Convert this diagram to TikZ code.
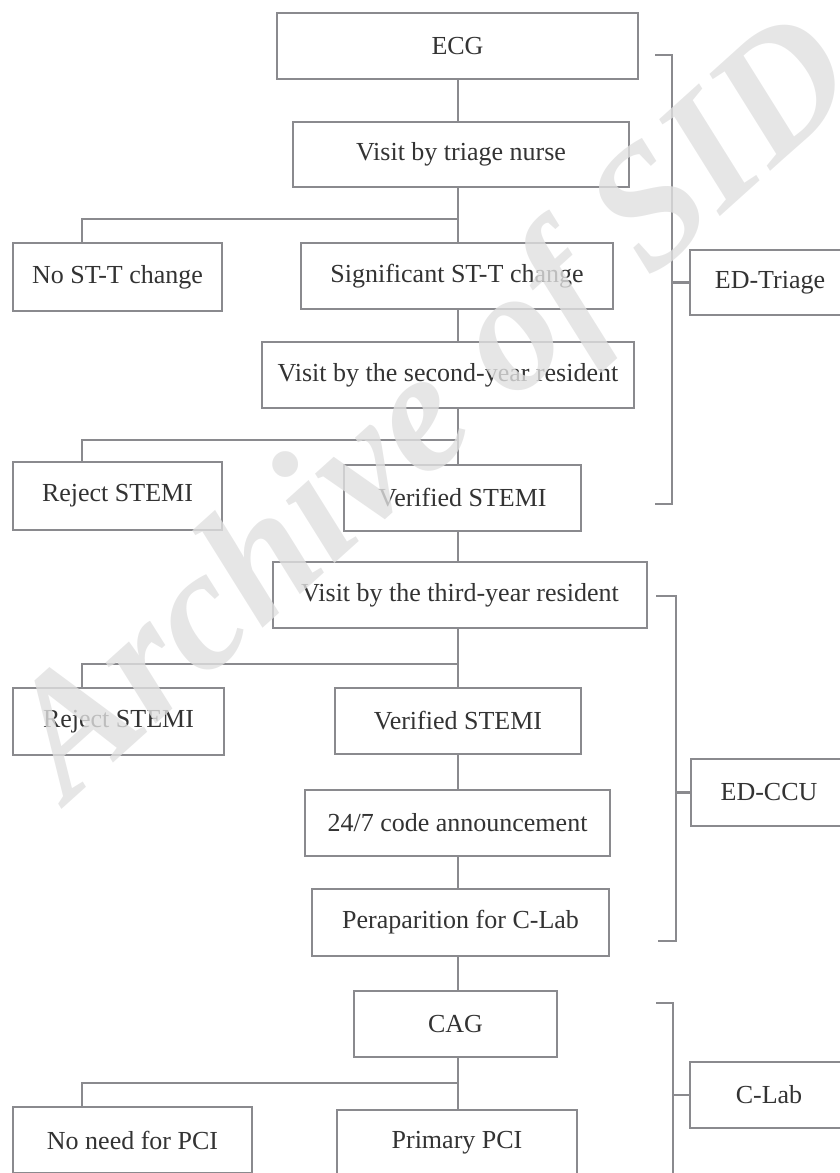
\documentclass[tikz,border=0pt]{standalone}
\usepackage{fontspec}
\setmainfont{Liberation Serif}
\definecolor{linegray}{HTML}{8A8A8E}
\definecolor{txtgray}{HTML}{333333}
\begin{document}
\begin{tikzpicture}[x=1pt,y=-1pt,
  bx/.style={draw=linegray, line width=2.6pt, fill=white, inner sep=0pt, text=txtgray,
    font=\fontsize{26}{30}\selectfont, align=center},
  conn/.style={draw=linegray, line width=2.6pt, line join=miter},
  wm/.style={text=gray!24, text opacity=0.8, font=\fontsize{172}{172}\selectfont\bfseries\itshape}]
\useasboundingbox (0,0) rectangle (839,1173);
\coordinate (sp) at (458,0);
% main column
\node[bx, minimum width=361pt, minimum height=66pt] (ecg) at (457.5,46) {ECG};
\node[bx, minimum width=336pt, minimum height=65pt] (nurse) at (461,154.5) {Visit by triage nurse};
\node[bx, minimum width=209pt, minimum height=68pt] (nost) at (117.5,277) {No ST-T change};
\node[bx, minimum width=312pt, minimum height=66pt] (sig) at (457,276) {Significant ST-T change};
\node[bx, minimum width=372pt, minimum height=66pt] (second) at (448,375) {Visit by the second-year resident};
\node[bx, minimum width=209pt, minimum height=68pt] (rej1) at (117.5,496) {Reject STEMI};
\node[bx, minimum width=237pt, minimum height=66pt] (ver1) at (462.5,498) {Verified STEMI};
\node[bx, minimum width=374pt, minimum height=66pt] (third) at (460,595) {Visit by the third-year resident};
\node[bx, minimum width=211pt, minimum height=67pt] (rej2) at (118.5,721.5) {Reject STEMI};
\node[bx, minimum width=246pt, minimum height=66pt] (ver2) at (458,721) {Verified STEMI};
\node[bx, minimum width=305pt, minimum height=66pt] (code) at (457.5,823) {24/7 code announcement};
\node[bx, minimum width=297pt, minimum height=67pt] (prep) at (460.5,922.5) {Peraparition for C-Lab};
\node[bx, minimum width=203pt, minimum height=66pt] (cag) at (455.5,1024) {CAG};
\node[bx, minimum width=239pt, minimum height=66pt] (noneed) at (132.5,1140) {No need for PCI};
\node[bx, minimum width=240pt, minimum height=66pt] (primary) at (457,1143) {Primary PCI};
% phase labels
\node[bx, minimum width=160pt, minimum height=65pt] (triage) at (770,282.5) {ED-Triage};
\node[bx, minimum width=156pt, minimum height=67pt] (ccu) at (769,792.5) {ED-CCU};
\node[bx, minimum width=158pt, minimum height=66pt] (clab) at (769,1095) {C-Lab};
% branch points
\coordinate (b1) at (82,219);
\coordinate (b2) at (82,440);
\coordinate (b3) at (82,664);
\coordinate (b4) at (82,1083);
% connectors
\draw[conn] (ecg.south -| sp) -- (nurse.north -| sp);
\draw[conn] (nurse.south -| sp) -- (sig.north -| sp);
\draw[conn] (b1 -| sp) -- (b1) -- (nost.north -| b1);
\draw[conn] (sig.south -| sp) -- (second.north -| sp);
\draw[conn] (second.south -| sp) -- (ver1.north -| sp);
\draw[conn] (b2 -| sp) -- (b2) -- (rej1.north -| b2);
\draw[conn] (ver1.south -| sp) -- (third.north -| sp);
\draw[conn] (third.south -| sp) -- (ver2.north -| sp);
\draw[conn] (b3 -| sp) -- (b3) -- (rej2.north -| b3);
\draw[conn] (ver2.south -| sp) -- (code.north -| sp);
\draw[conn] (code.south -| sp) -- (prep.north -| sp);
\draw[conn] (prep.south -| sp) -- (cag.north -| sp);
\draw[conn] (cag.south -| sp) -- (primary.north -| sp);
\draw[conn] (b4 -| sp) -- (b4) -- (noneed.north -| b4);
% brackets
\coordinate (t1a) at (655,55);
\coordinate (t1b) at (672,55);
\coordinate (t1c) at (672,504);
\coordinate (t1d) at (655,504);
\draw[conn] (t1a) -- (t1b) -- (t1c) -- (t1d);
\draw[conn] (triage.west -| t1b) -- (triage.west);
\coordinate (t2a) at (656,596);
\coordinate (t2b) at (676,596);
\coordinate (t2c) at (676,941);
\coordinate (t2d) at (658,941);
\draw[conn] (t2a) -- (t2b) -- (t2c) -- (t2d);
\draw[conn] (ccu.west -| t2b) -- (ccu.west);
\coordinate (t3a) at (656,1003);
\coordinate (t3b) at (673,1003);
\coordinate (t3c) at (673,1185);
\draw[conn] (t3a) -- (t3b) -- (t3c);
\draw[conn] (clab.west -| t3b) -- (clab.west);
% watermark
\node[wm, rotate=42] (wmark) at (438,414) {Archive of SID};
\end{tikzpicture}
\end{document}
